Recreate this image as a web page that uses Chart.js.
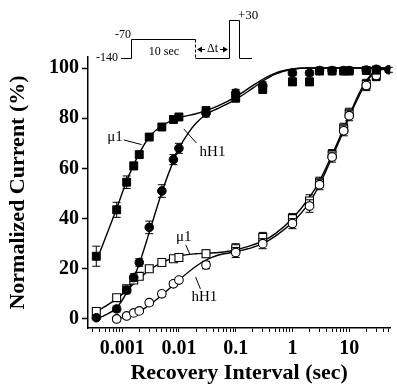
<!DOCTYPE html>
<html>
<head>
<meta charset="utf-8">
<script src="https://cdn.jsdelivr.net/npm/chart.js@4.4.0/dist/chart.umd.min.js"></script>
<style>
  html, body { margin: 0; padding: 0; background: #fff; }
  #wrap { width: 397px; height: 384px; }
</style>
</head>
<body>
<div id="wrap"><canvas id="myChart" width="397" height="384"></canvas></div>
<script>
// recovery intervals (sec) for the measured points
const tFilled = [0.00035, 0.0008, 0.0012, 0.0016, 0.002, 0.003, 0.005, 0.008, 0.01, 0.03, 0.1, 0.3, 1, 2, 3, 5, 8, 10, 20, 30, 50];
const mu1Filled = [25, 43.5, 54.5, 61, 65.5, 72.5, 76.5, 79.5, 80.5, 83, 88, 91.5, 94.5, 94.5, 98.8, 98.8, 98.8, 98.8, 99, 99.2, null];
const errMu1Filled = [4, 3, 2.5, 1.5, 1.2, 1.2, 1, 1, 1, 1.5, 1.5, 1.5, 1.5, 1.5, 1, 1, 1, 1, 1, 1.5, 0];
const hH1Filled = [0.5, 4, 11.5, 16.5, 22.5, 36.5, 51, 63.5, 68, 82, 90, 93, 98, 98, 99, 99, 99, 99, 99.2, 99.5, 99.3];
const errHH1Filled = [0.8, 1.2, 1.5, 1.5, 1.5, 2.5, 2.5, 2, 2, 1.5, 1.5, 1.5, 1, 1, 1, 1, 1, 1, 1, 1, 1];

const tOpen = [0.00035, 0.0008, 0.0012, 0.0016, 0.002, 0.003, 0.005, 0.008, 0.01, 0.03, 0.1, 0.3, 1, 2, 3, 5, 8, 10, 20, 30];
const mu1Open = [3, 8.5, 12, 15.5, 17, 20, 22.5, 24, 24.5, 26, 28, 32.5, 40, 47, 54.5, 65.5, 76, 82, 93.5, 97];
const errMu1Open = [1.2, 1.2, 1, 1, 1, 1, 1, 1, 1, 1.5, 2, 2, 2, 2.5, 2, 2, 2, 2, 2, 2];
const hH1Open = [null, 0, 1.2, 2.4, 3.2, 6.5, 10, 14, 15.5, 21.5, 26.5, 30, 38, 45, 53.5, 64.5, 75, 81, 93, 97];
const errHH1Open = [0, 1, 1, 1, 1, 1, 1, 1, 1, 1.5, 2, 2, 2, 2.5, 2, 2, 2, 2, 2, 2];

// fitted curves
const fitMu1FilledX = [0.00035, 0.0005, 0.0008, 0.0012, 0.0016, 0.002, 0.003, 0.005, 0.008, 0.01, 0.02, 0.03, 0.05, 0.1, 0.2, 0.3, 0.5, 1, 2, 60];
const fitMu1FilledY = [23, 32, 44, 55, 61.5, 66, 72.5, 77, 79.3, 80.2, 81.8, 83, 85, 88.5, 93, 95.5, 98, 99.6, 100, 100];
const fitHH1FilledX = [0.00035, 0.0005, 0.0008, 0.0012, 0.0016, 0.002, 0.003, 0.005, 0.008, 0.01, 0.015, 0.02, 0.03, 0.05, 0.1, 0.2, 0.3, 0.5, 1, 2, 60];
const fitHH1FilledY = [0, 1.5, 4.5, 10.5, 16.5, 22, 34.5, 50.5, 63, 68, 74.5, 78, 81.5, 84, 87.5, 92, 94.8, 97.6, 99.5, 100, 100];
const fitMu1OpenX = [0.00035, 0.0005, 0.0008, 0.0012, 0.002, 0.003, 0.005, 0.01, 0.02, 0.05, 0.1, 0.2, 0.3, 0.5, 1, 2, 3, 5, 8, 10, 15, 20, 30, 60];
const fitMu1OpenY = [3, 5, 8, 11.5, 16, 19.5, 22.5, 25, 26, 26.5, 27.5, 29.5, 31, 34, 40, 48.5, 55, 65.5, 76, 81, 90, 95, 99, 100];
const fitHH1OpenX = [0.0008, 0.0012, 0.002, 0.003, 0.005, 0.008, 0.01, 0.02, 0.03, 0.05, 0.1, 0.2, 0.3, 0.5, 1, 2, 3, 5, 8, 10, 15, 20, 30, 60];
const fitHH1OpenY = [0, 1, 3, 5.5, 9.5, 13.5, 15.5, 21, 23.5, 25.5, 26.8, 28.5, 30, 33, 38.5, 46.5, 53.5, 64.5, 75, 80.5, 89, 94.5, 98.5, 100];

// axis ticks
const yTicks = [0, 20, 40, 60, 80, 100];
const xMajors = [0.001, 0.01, 0.1, 1, 10];
const xTickLabels = ['0.001', '0.01', '0.1', '1', '10'];

const SERIF = '"Liberation Serif", "Times New Roman", serif';

function pts(t, v, e) {
    var out = [];
    for (var i = 0; i < t.length; i++) {
        if (v[i] === null) continue;
        out.push({ x: t[i], y: v[i], e: e ? e[i] : 0 });
    }
    return out;
}

// log ticks 1..9 x 10^n inside the range
var xMinorTicks = [];
for (var d = -4; d <= 1; d++) {
    for (var m = 1; m <= 9; m++) {
        var v = m * Math.pow(10, d);
        if (v >= 0.00025 && v <= 53) xMinorTicks.push(v);
    }
}

const errorBars = {
    id: 'errorBars',
    beforeDatasetDraw(chart, args) {
        const ds = chart.data.datasets[args.index];
        if (!ds.errBars) return;
        const ctx = chart.ctx, ys = chart.scales.y;
        ctx.save();
        ctx.strokeStyle = '#000';
        ctx.lineWidth = 1;
        args.meta.data.forEach(function (pt, i) {
            const raw = ds.data[i];
            if (!raw.e) return;
            const y1 = ys.getPixelForValue(raw.y + raw.e);
            const y2 = ys.getPixelForValue(raw.y - raw.e);
            ctx.beginPath();
            ctx.moveTo(pt.x, y1); ctx.lineTo(pt.x, y2);
            ctx.moveTo(pt.x - 4, y1); ctx.lineTo(pt.x + 4, y1);
            ctx.moveTo(pt.x - 4, y2); ctx.lineTo(pt.x + 4, y2);
            ctx.stroke();
        });
        ctx.restore();
    }
};

// pulse protocol inset and curve labels
const extras = {
    id: 'extras',
    afterDraw(chart) {
        const ctx = chart.ctx;
        const xs = chart.scales.x, ys = chart.scales.y;
        ctx.save();
        ctx.strokeStyle = '#000';
        ctx.fillStyle = '#000';
        ctx.lineWidth = 1;

        // protocol
        ctx.beginPath();
        ctx.moveTo(121, 58.5); ctx.lineTo(131.5, 58.5); ctx.lineTo(131.5, 39.5); ctx.lineTo(195.5, 39.5);
        ctx.moveTo(195.5, 58.5); ctx.lineTo(229.5, 58.5); ctx.lineTo(229.5, 20.5); ctx.lineTo(239.5, 20.5);
        ctx.lineTo(239.5, 58.5); ctx.lineTo(252, 58.5);
        ctx.stroke();
        ctx.setLineDash([3, 2]);
        ctx.beginPath();
        ctx.moveTo(195.5, 39.5); ctx.lineTo(195.5, 58.5);
        ctx.stroke();
        ctx.setLineDash([]);
        // delta t arrows
        ctx.beginPath();
        ctx.moveTo(201, 49.5); ctx.lineTo(205, 49.5);
        ctx.moveTo(220, 49.5); ctx.lineTo(224, 49.5);
        ctx.stroke();
        ctx.beginPath();
        ctx.moveTo(197, 49.5); ctx.lineTo(202, 46.5); ctx.lineTo(202, 52.5); ctx.closePath();
        ctx.moveTo(228, 49.5); ctx.lineTo(223, 46.5); ctx.lineTo(223, 52.5); ctx.closePath();
        ctx.fill();

        ctx.font = '12px ' + SERIF;
        ctx.textBaseline = 'middle';
        ctx.textAlign = 'right';
        ctx.fillText('-140', 118, 58);
        ctx.fillText('-70', 131, 35);
        ctx.textAlign = 'center';
        ctx.fillText('10 sec', 164, 52);
        ctx.fillText('\u0394t', 212.5, 49);
        ctx.textAlign = 'left';
        ctx.font = '13px ' + SERIF;
        ctx.fillText('+30', 238, 16);

        // curve labels with leader lines
        function P(x, y) { return [xs.getPixelForValue(x), ys.getPixelForValue(y)]; }
        function leader(a, b) {
            const p = P(a[0], a[1]), q = P(b[0], b[1]);
            ctx.beginPath(); ctx.moveTo(p[0], p[1]); ctx.lineTo(q[0], q[1]); ctx.stroke();
        }
        function label(txt, x, y) {
            const p = P(x, y);
            ctx.fillText(txt, p[0], p[1]);
        }
        ctx.font = '15px ' + SERIF;
        ctx.textAlign = 'center';
        label('\u03bc1', 0.00075, 72.5);
        leader([0.00108, 71.3], [0.0022, 69.5]);
        label('hH1', 0.039, 66.5);
        leader([0.0204, 70.1], [0.0122, 75.7]);
        label('\u03bc1', 0.0122, 32.5);
        leader([0.0132, 29.5], [0.0155, 25.9]);
        label('hH1', 0.028, 8.8);
        leader([0.0239, 12], [0.0197, 16.7]);
        ctx.restore();
    }
};

function curve(xArr, yArr) {
    return {
        data: pts(xArr, yArr),
        showLine: true,
        borderColor: '#000',
        borderWidth: 1.4,
        pointRadius: 0,
        cubicInterpolationMode: 'monotone',
        order: 2
    };
}

const ctx = document.getElementById('myChart').getContext('2d');

window.myChart = new Chart(ctx, {
    type: 'scatter',
    data: {
        datasets: [
            {
                label: 'hH1 filled',
                data: pts(tFilled, hH1Filled, errHH1Filled),
                errBars: true,
                pointStyle: 'circle', pointRadius: 4.3,
                backgroundColor: '#000', borderColor: '#000', borderWidth: 1,
                order: 0
            },
            {
                label: 'mu1 filled',
                data: pts(tFilled, mu1Filled, errMu1Filled),
                errBars: true,
                pointStyle: 'rect', pointRadius: 5.6,
                backgroundColor: '#000', borderColor: '#000', borderWidth: 1,
                order: 0
            },
            {
                label: 'hH1 open',
                data: pts(tOpen, hH1Open, errHH1Open),
                errBars: true,
                pointStyle: 'circle', pointRadius: 4.3,
                backgroundColor: '#fff', borderColor: '#000', borderWidth: 1.1,
                order: 1
            },
            {
                label: 'mu1 open',
                data: pts(tOpen, mu1Open, errMu1Open),
                errBars: true,
                pointStyle: 'rect', pointRadius: 5.6,
                backgroundColor: '#fff', borderColor: '#000', borderWidth: 1.1,
                order: 1
            },
            curve(fitMu1FilledX, fitMu1FilledY),
            curve(fitHH1FilledX, fitHH1FilledY),
            curve(fitMu1OpenX, fitMu1OpenY),
            curve(fitHH1OpenX, fitHH1OpenY)
        ]
    },
    options: {
        responsive: false,
        animation: false,
        layout: { padding: { top: 57, right: 0, left: 0, bottom: 0 } },
        plugins: {
            legend: { display: false },
            tooltip: { enabled: false }
        },
        scales: {
            x: {
                type: 'logarithmic',
                min: 0.00025,
                max: 53,
                afterBuildTicks: function (scale) {
                    scale.ticks = xMinorTicks.map(function (v) { return { value: v }; });
                },
                afterFit: function (scale) { scale.height = 56; },
                ticks: {
                    autoSkip: false,
                    maxRotation: 0,
                    padding: 5,
                    color: '#000',
                    font: { family: SERIF, size: 20, weight: 'bold' },
                    callback: function (v) {
                        for (var i = 0; i < xMajors.length; i++) {
                            if (Math.abs(Math.log10(v) - Math.log10(xMajors[i])) < 1e-6) return xTickLabels[i];
                        }
                        return '';
                    }
                },
                grid: {
                    drawOnChartArea: false,
                    drawTicks: true,
                    tickLength: 4,
                    tickColor: '#000',
                    tickWidth: 1
                },
                border: { color: '#000', width: 1.5 },
                title: {
                    display: true,
                    text: 'Recovery Interval (sec)',
                    color: '#000',
                    font: { family: SERIF, size: 22, weight: 'bold', lineHeight: 1 },
                    padding: { top: 0, bottom: 0 }
                }
            },
            y: {
                min: -3.6,
                max: 104.4,
                afterBuildTicks: function (scale) {
                    scale.ticks = yTicks.map(function (v) { return { value: v }; });
                },
                afterFit: function (scale) { scale.width = 88; },
                ticks: {
                    padding: 3,
                    color: '#000',
                    font: { family: SERIF, size: 20, weight: 'bold' }
                },
                grid: {
                    drawOnChartArea: false,
                    drawTicks: true,
                    tickLength: 6,
                    tickColor: '#000',
                    tickWidth: 1.5
                },
                border: { color: '#000', width: 1.5 },
                title: {
                    display: true,
                    text: 'Normalized Current (%)',
                    color: '#000',
                    font: { family: SERIF, size: 22, weight: 'bold', lineHeight: 1 },
                    padding: { top: 7, bottom: 0 }
                }
            }
        }
    },
    plugins: [errorBars, extras]
});
</script>
</body>
</html>
